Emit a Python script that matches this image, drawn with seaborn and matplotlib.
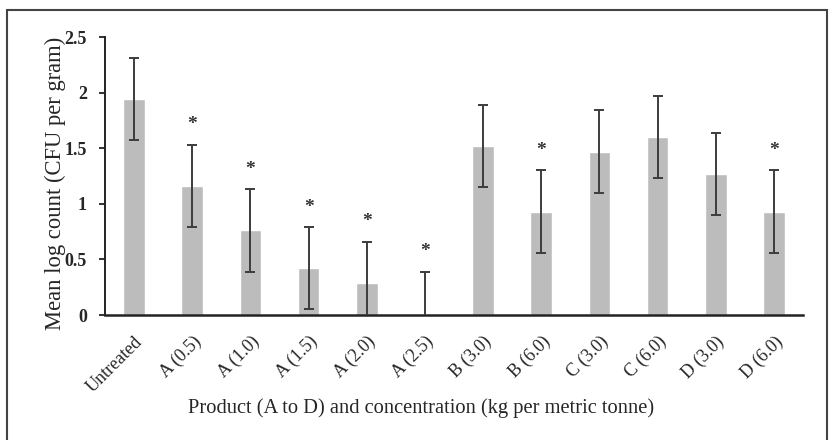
import matplotlib
matplotlib.use("Agg")
import matplotlib.pyplot as plt
import seaborn as sns
import pandas as pd
import numpy as np
from matplotlib.patches import Rectangle

categories = ["Untreated", "A (0.5)", "A (1.0)", "A (1.5)", "A (2.0)", "A (2.5)",
              "B (3.0)", "B (6.0)", "C (3.0)", "C (6.0)", "D (3.0)", "D (6.0)"]
means = [1.94, 1.16, 0.76, 0.42, 0.29, 0.01, 1.52, 0.93, 1.47, 1.60, 1.27, 0.93]
errors = [0.37, 0.37, 0.37, 0.37, 0.37, 0.38, 0.37, 0.37, 0.37, 0.37, 0.37, 0.37]
significant = [False, True, True, True, True, True, False, True, False, False, False, True]
yticks = [0, 0.5, 1, 1.5, 2, 2.5]
ytick_labels = ["0", "0.5", "1", "1.5", "2", "2.5"]

sns.set_theme(style="white")
plt.rcParams["font.family"] = ["Liberation Serif", "DejaVu Serif"]

df = pd.DataFrame({"category": categories, "mean": means})

W, H = 834, 440
fig = plt.figure(figsize=(W / 100, H / 100), dpi=100)
ax = fig.add_axes([105 / W, 1 - 315 / H, 698 / W, 278 / H])

sns.barplot(data=df, x="category", y="mean", color="#bcbcbc", saturation=1,
            width=0.37, ax=ax, errorbar=None)
xpos = np.arange(len(categories))
ax.errorbar(xpos, means, yerr=errors, fmt="none", ecolor="#3c3c3c",
            elinewidth=1.4, capsize=3.4, capthick=1.4, zorder=3)
for x, m, e, s in zip(xpos, means, errors, significant):
    if s:
        ax.text(x, m + e + 0.18, "*", ha="center", va="center", fontsize=14,
                fontweight="bold", color="#333333")

ax.set_xlim(-0.5, len(categories) - 0.5)
ax.set_ylim(0, 2.5)
ax.set_yticks(yticks)
ax.set_yticklabels(ytick_labels, fontsize=13, fontweight="bold")
ax.set_xticks(xpos)
ax.set_xticklabels(categories, rotation=45, ha="right", rotation_mode="anchor",
                   fontsize=13)
ax.tick_params(axis="y", which="both", left=True, length=4, width=1.3,
               color="#222222", pad=9)
ax.tick_params(axis="x", bottom=False, pad=7)
for side in ["top", "right"]:
    ax.spines[side].set_visible(False)
ax.spines["left"].set_color("#222222")
ax.spines["bottom"].set_color("#222222")
ax.spines["left"].set_linewidth(1.4)
ax.spines["bottom"].set_linewidth(1.8)
ax.set_xlabel("Product (A to D) and concentration (kg per metric tonne)",
              fontsize=14.8, va="center")
ax.xaxis.set_label_coords((421 - 105) / 698, -(408 - 315) / 278)
ax.set_ylabel("Mean log count (CFU per gram)", fontsize=16.3, va="center")
ax.yaxis.set_label_coords((55 - 105) / 698, (315 - 183) / 278)

fig.patches.append(Rectangle((7 / W, -0.05), 820 / W, 1 - 10 / H + 0.05,
                             transform=fig.transFigure, fill=False,
                             edgecolor="#444444", linewidth=1.5))

fig.savefig("out.png", dpi=100)
